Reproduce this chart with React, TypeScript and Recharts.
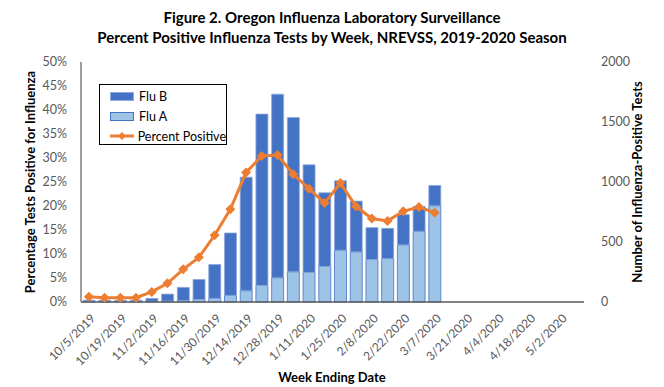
import React from 'react'
import { ComposedChart, Bar, Line, XAxis, YAxis } from 'recharts'

// weeks ending, 2019-2020 season
const weeks = [
  '10/5/2019', '10/12/2019', '10/19/2019', '10/26/2019', '11/2/2019', '11/9/2019', '11/16/2019', '11/23/2019',
  '11/30/2019', '12/7/2019', '12/14/2019', '12/21/2019', '12/28/2019', '1/4/2020', '1/11/2020', '1/18/2020',
  '1/25/2020', '2/1/2020', '2/8/2020', '2/15/2020', '2/22/2020', '2/29/2020', '3/7/2020', '3/14/2020',
  '3/21/2020', '3/28/2020', '4/4/2020', '4/11/2020', '4/18/2020', '4/25/2020', '5/2/2020', '5/9/2020',
]
const fluA = [4, 3, 3, 4, 5, 8, 12, 22, 30, 55, 94, 138, 202, 252, 246, 296, 431, 418, 354, 362, 476, 589, 802]
const fluB = [11, 12, 11, 11, 25, 58, 110, 166, 283, 520, 946, 1428, 1530, 1286, 897, 614, 579, 423, 266, 252, 252, 208, 169]
const percentPositive = [1.1, 0.9, 0.9, 0.9, 2.1, 3.9, 6.8, 9.3, 13.9, 19.3, 27.0, 30.4, 30.6, 26.6, 23.6, 20.6, 24.8, 19.9, 17.4, 16.9, 18.9, 19.8, 18.6]
const pctTicks = [0, 5, 10, 15, 20, 25, 30, 35, 40, 45, 50]
const countTicks = [0, 500, 1000, 1500, 2000]

const rows = weeks.map((w, i) => ({
  week: w,
  fluA: fluA[i] ?? null,
  fluB: fluB[i] ?? null,
  pct: percentPositive[i] ?? null,
}))

const FONT = 'Lato, "Liberation Sans", sans-serif'
const BLUE = '#4472C4'
const LIGHT = '#9DC3E6'
const ORANGE = '#ED7D31'

const Diamond = (props: any) => {
  const { cx, cy } = props
  if (cx == null || cy == null) return null
  const r = 5
  return <polygon points={`${cx},${cy - r} ${cx + r},${cy} ${cx},${cy + r} ${cx - r},${cy}`} fill={ORANGE} />
}

const XTick = (props: any) => {
  const { x, y, payload } = props
  return (
    <text x={x + 4} y={y + 6} transform={`rotate(-45 ${x + 4} ${y + 6})`} textAnchor="end" dominantBaseline="central"
      fontSize={12} fill="#595959" fontFamily={FONT}>
      {payload.value}
    </text>
  )
}

function LegendBox() {
  const item = { display: 'flex', alignItems: 'center', height: 20 }
  return (
    <div style={{ position: 'absolute', left: 99, top: 84, border: '1px solid #000', width: 128, height: 61, padding: '1px 0 0 10px', boxSizing: 'border-box', background: '#fff', fontSize: 12.5, color: '#000', whiteSpace: 'nowrap' }}>
      <div style={item}>
        <span style={{ width: 22, height: 7, background: BLUE, border: '1px solid #8FAADC', marginRight: 5 }} />Flu B
      </div>
      <div style={item}>
        <span style={{ width: 22, height: 7, background: LIGHT, border: `1px solid ${BLUE}`, marginRight: 5 }} />Flu A
      </div>
      <div style={item}>
        <svg width={24} height={10} style={{ marginRight: 4 }}>
          <line x1={0} y1={5} x2={24} y2={5} stroke={ORANGE} strokeWidth={3} />
          <polygon points="12,1 16,5 12,9 8,5" fill={ORANGE} />
        </svg>
        Percent Positive
      </div>
    </div>
  )
}

export default function App() {
  return (
    <div style={{ position: 'absolute', left: 0, top: 0, width: 664, height: 387, background: '#fff', fontFamily: FONT }}>
      <div style={{ position: 'absolute', left: 0, top: 7, width: 664, textAlign: 'center', fontWeight: 700, fontSize: 15, lineHeight: '20px', color: '#000' }}>
        Figure 2. Oregon Influenza Laboratory Surveillance<br />
        Percent Positive Influenza Tests by Week, NREVSS, 2019-2020 Season
      </div>
      <ComposedChart width={664} height={387} data={rows} margin={{ top: 62, right: 0, bottom: 25, left: 0 }} barCategoryGap={2}>
        <XAxis dataKey="week" interval={1} tick={<XTick />} tickLine={false} height={60}
          axisLine={{ stroke: '#595959', strokeWidth: 1.5 }} />
        <YAxis yAxisId="pct" domain={[0, 50]} ticks={pctTicks} tickFormatter={(v) => `${v}%`} width={81}
          tickLine={false} tickSize={11} tickMargin={3} axisLine={{ stroke: '#7f7f7f', strokeWidth: 1.5 }}
          tick={{ fontSize: 12.5, fill: '#595959', fontFamily: FONT }} />
        <YAxis yAxisId="cnt" orientation="right" domain={[0, 2000]} ticks={countTicks} width={80}
          tickLine={false} tickSize={14} tickMargin={3} axisLine={false}
          tick={{ fontSize: 12.5, fill: '#595959', fontFamily: FONT }} />
        <Bar yAxisId="cnt" dataKey="fluA" stackId="s" name="Flu A" fill={LIGHT} stroke={BLUE} strokeWidth={0.8} barSize={12} isAnimationActive={false} />
        <Bar yAxisId="cnt" dataKey="fluB" stackId="s" name="Flu B" fill={BLUE} stroke="#8FAADC" strokeWidth={0.8} barSize={12} isAnimationActive={false} />
        <Line yAxisId="pct" dataKey="pct" name="Percent Positive" stroke={ORANGE} strokeWidth={3} type="linear"
          dot={<Diamond />} activeDot={false} connectNulls={false} isAnimationActive={false} />
      </ComposedChart>
      <LegendBox />
      <div style={{ position: 'absolute', left: 30, top: 182, transform: 'translate(-50%, -50%) rotate(-90deg)', whiteSpace: 'nowrap', fontWeight: 700, fontSize: 13, color: '#000' }}>
        Percentage Tests Positive for Influenza
      </div>
      <div style={{ position: 'absolute', left: 637, top: 182, transform: 'translate(-50%, -50%) rotate(-90deg)', whiteSpace: 'nowrap', fontWeight: 700, fontSize: 13, color: '#000' }}>
        Number of Influenza-Positive Tests
      </div>
      <div style={{ position: 'absolute', left: 332, top: 377, transform: 'translate(-50%, -50%)', whiteSpace: 'nowrap', fontWeight: 700, fontSize: 13, color: '#000' }}>
        Week Ending Date
      </div>
    </div>
  )
}
